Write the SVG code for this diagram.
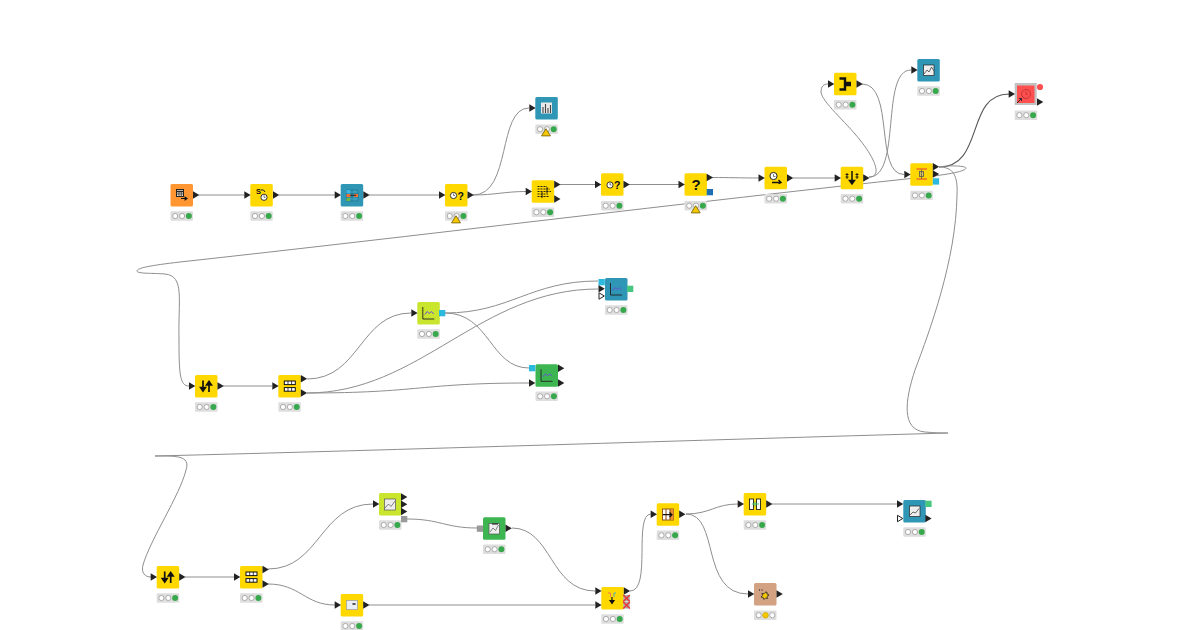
<svg xmlns="http://www.w3.org/2000/svg" width="1200" height="630" viewBox="0 0 1200 630">
<style>
.w{fill:none;stroke:#8e8e8e;stroke-width:1}
.y{fill:#ffd800}.o{fill:#ff9632}.t{fill:#2f97b5}.l{fill:#c9e52e}.g{fill:#3db551}.b{fill:#d2a283}.r{fill:#ff4f4f}
.ic{fill:none;stroke:#222;stroke-width:.9}
.q{font-family:"Liberation Sans",Arial,sans-serif;font-weight:700;fill:#111}
.bar{fill:#dedede}
.c{fill:#fff;stroke:#9a9a9a;stroke-width:.8}
.on{fill:#37a84c}
.am{fill:#f5c800;stroke:#c9a400;stroke-width:.7}
.pb{fill:#2bb9de}.pg{fill:#48c77e}.pd{fill:#1a6fb5}.px{fill:#999}
.open{fill:#fff;stroke:#222;stroke-width:1}
</style>
<defs>
<rect id="box" width="22.500" height="22.500" rx="1.500"/>
<path id="p" d="M0-3.700L6.300 0L0 3.700z" fill="#222"/>
<path id="po" d="M.5-3.200L5.800 0L.5 3.200z" class="open"/>
<g id="st"><rect width="22.500" height="9.400" rx="1" class="bar"/><circle cx="4.700" cy="4.700" r="2.600" class="c"/><circle cx="11.600" cy="4.700" r="2.600" class="c"/><circle cx="18.400" cy="4.700" r="3" class="on"/></g>
<g id="warn"><path d="M0-3.800L4.500 3.400H-4.500z" fill="#f5c800" stroke="#6e5a00" stroke-width=".8"/></g>
<g id="xp"><rect x="-3" y="-3" width="6.500" height="6.500" fill="#aaa"/><path d="M-3-3L3.500 3.500M3.500-3L-3 3.500" stroke="#f03030" stroke-width="1.300"/></g>
<g id="chart"><path d="M5.500 5V17H17" class="ic"/><path d="M7.500 12.500L10 9.500L12 11.500L14 9.500L16.500 12" fill="none" stroke="#6a4fd8" stroke-width="1"/></g>
<g id="split"><rect x="6" y="6" width="11" height="3.600" fill="#fff" stroke="#111"/><rect x="6" y="12.600" width="11" height="3.600" fill="#fff" stroke="#111"/><path d="M9.700 6V9.600M13.300 6V9.600M9.700 12.600V16.200M13.300 12.600V16.200" stroke="#111" stroke-width=".8"/></g>
<g id="sort"><path d="M8 5.500V15M5.600 12.500L8 16L10.400 12.500zM14 17V7.500M11.600 10L14 6.500L16.400 10z" stroke="#111" stroke-width="1.700" fill="#111"/></g>
<g id="clk"><circle r="3.100" fill="#fff" stroke="#222" stroke-width=".9"/><path d="M0-2V0H1.500" fill="none" stroke="#222" stroke-width=".6"/></g>
</defs>

<g id="connectors" class="w">
<path d="M198.500 195H244.500"/>
<path d="M279 195H335"/>
<path d="M369 195H439"/>
<path d="M473 195C512 195 497 108 529 108"/>
<path d="M473 195C495 195 505 191.500 526 191.500"/>
<path d="M560 184.500H595"/>
<path d="M629 184.500H679"/>
<path d="M712 177.500C730 177.500 740 178 759 178"/>
<path d="M793 178H835"/>
<path d="M869 177C882 177 876 160 860 140C845 121 822 102 821 92C821 86 824 84 828 84"/>
<path d="M869 177C902 177 880 70 911 70"/>
<path d="M862 84C895 84 874 174.500 904 174.500"/>
<path d="M939 167C985 167 965 94 1009 94" stroke="#555" stroke-width="1.100"/>
<path d="M939 167C950 165 966 166 966 168C966 171 950 174.500 920 177.500C700 201 400 238 180 262C150 265.500 137 268 137 271C137 274 155 273 165 274C185 276 178 300 179 340C179 375 180 386 189 386"/>
<path d="M939 167C953 167 958 175 957 195C956 260 930 330 915 370C905 400 901 430 925 432C935 433 949 433 948 433C700 440 400 450 155 456C175 456 191 455 186 470C180 495 150 540 143 565C141 573 145 577 151 577"/>
<path d="M223 386H272"/>
<path d="M307 379C360 379 360 313 411 313"/>
<path d="M307 393C420 393 480 289 598 289"/>
<path d="M307 393C420 393 420 383 529 383"/>
<path d="M445 313C510 313 530 281 598 281"/>
<path d="M445 313C490 313 490 368 529 368"/>
<path d="M185 577H234"/>
<path d="M268 569C320 569 320 504 373 504"/>
<path d="M268 584C300 584 305 605 335 605"/>
<path d="M369 605H595"/>
<path d="M407 519C440 519 445 528 477 528"/>
<path d="M512 528C552 528 550 591 595 591"/>
<path d="M630 591C652 591 633 514 651 514"/>
<path d="M686 514C710 514 715 504 738 504"/>
<path d="M686 514C720 514 700 594 748 594"/>
<path d="M772 504H897"/>
</g>

<g id="n1"><use href="#box" class="o" x="170.500" y="184"/><use href="#st" x="170.500" y="211.300"/><use href="#p" x="193" y="195"/><rect x="176.500" y="189.500" width="7" height="7" fill="#f5e8d8" stroke="#222"/><path d="M176.500 191.500H183.500" stroke="#222" stroke-width="1.500"/><path d="M179 191.500V196.500M181.300 191.500V196.500M176.500 194H183.500" stroke="#222" stroke-width=".7"/><path d="M181 198.500H186.500M184.500 196.800L187 198.500L184.500 200.200" stroke="#111" fill="none" stroke-width="1.100"/></g>
<g id="n2"><use href="#box" class="y" x="250.300" y="184"/><use href="#st" x="250.300" y="211.300"/><use href="#p" x="244.300" y="195"/><use href="#p" x="273" y="195"/><text class="q" x="256" y="194" font-size="7.500">S</text><path d="M261 190Q264 189 265 192" fill="none" stroke="#222"/><use href="#clk" x="264" y="197.300"/></g>
<g id="n3"><use href="#box" class="t" x="340.700" y="184"/><use href="#st" x="340.700" y="211.300"/><use href="#p" x="334.700" y="195"/><use href="#p" x="363.300" y="195"/><path d="M346.500 190H358V201H346.500zM352 190V201M346.500 193.500H358M346.500 197H358" stroke="#1d6a80" stroke-width=".6" fill="#3aa0bd"/><rect x="346.500" y="190" width="3.500" height="3.500" fill="#38b6e8"/><rect x="346.500" y="194" width="4" height="3" fill="#f07030"/><rect x="346.500" y="198" width="3.500" height="3" fill="#6db83e"/><rect x="354" y="194" width="4" height="3" fill="#f07030"/><path d="M350 195.300H356" stroke="#222"/></g>
<g id="n4"><use href="#box" class="y" x="445" y="184"/><use href="#st" x="445" y="211.300"/><use href="#p" x="439" y="195"/><use href="#p" x="467.500" y="195"/><use href="#clk" x="453.500" y="195.500"/><text class="q" x="457.500" y="199.500" font-size="10.500">?</text><use href="#warn" x="456" y="219.500"/></g>
<g id="n5"><use href="#box" class="t" x="535.300" y="97"/><use href="#st" x="535.300" y="124.500"/><use href="#p" x="529.300" y="108"/><rect x="541" y="102.500" width="11" height="11" fill="#e8e8e8"/><path d="M543 113V107M545.500 113V104M548 113V108M550.500 113V105" stroke="#444" stroke-width="1.100"/><use href="#warn" x="546" y="132.500"/></g>
<g id="n6"><use href="#box" class="y" x="531.700" y="180.300"/><use href="#st" x="531.700" y="207.500"/><use href="#p" x="525.700" y="191.500"/><use href="#p" x="554.200" y="184.500"/><use href="#p" x="554.200" y="199"/><path d="M537.500 186.500H547M537.500 189H550M537.500 191.500H551M537.500 194H548M537.500 196.500H549" stroke="#111" stroke-width=".9" stroke-dasharray="2 1"/><path d="M547 187V193M542 192V198" stroke="#111" stroke-width=".9"/></g>
<g id="n7"><use href="#box" class="y" x="601" y="173.300"/><use href="#st" x="601" y="201"/><use href="#p" x="595" y="184.500"/><use href="#p" x="623.500" y="184.500"/><use href="#clk" x="610" y="185"/><text class="q" x="614" y="189" font-size="10.500">?</text></g>
<g id="n8"><use href="#box" class="y" x="684.500" y="173.300"/><use href="#st" x="684.500" y="201"/><use href="#p" x="678.500" y="184.500"/><use href="#p" x="706.700" y="177.500"/><rect x="706.700" y="189" width="6.300" height="6.300" class="pd"/><text class="q" x="691.500" y="190" font-size="15">?</text><use href="#warn" x="695.700" y="209.500"/></g>
<g id="n9"><use href="#box" class="y" x="764.500" y="166.700"/><use href="#st" x="764.500" y="194"/><use href="#p" x="758.500" y="178"/><use href="#p" x="787" y="178"/><circle cx="773.500" cy="176" r="3.600" fill="#fff" stroke="#222"/><path d="M773.500 174V176.500H775.500" fill="none" stroke="#222" stroke-width=".6"/><path d="M772 182.500H781M778.500 180L781 182.500L778.500 183.500" fill="none" stroke="#111" stroke-width="1.400"/></g>
<g id="n10"><use href="#box" class="y" x="840.700" y="166.700"/><use href="#st" x="840.700" y="194"/><use href="#p" x="834.700" y="178"/><use href="#p" x="863.200" y="178"/><path d="M852 171V183M849.500 180.500L852 184L854.500 180.500z" stroke="#111" fill="#111" stroke-width="1.500"/><path d="M847 173V179M857 173V179M845.500 174.500H848.500M845.500 177H848.500M855.500 174.500H858.500M855.500 177H858.500" stroke="#111" stroke-width=".9"/></g>
<g id="n11"><use href="#box" class="y" x="834" y="72.700"/><use href="#st" x="834" y="100"/><use href="#p" x="828" y="84"/><use href="#p" x="856.500" y="84"/><path d="M839.500 78.500H845V83H851M839.500 89.500H845V85H851" fill="none" stroke="#111" stroke-width="2.400"/></g>
<g id="n12"><use href="#box" class="t" x="917.300" y="59"/><use href="#st" x="917.300" y="86.300"/><use href="#p" x="911.300" y="70"/><rect x="923.500" y="65" width="10.500" height="10.500" fill="#eee" stroke="#222" stroke-width=".7"/><path d="M924 74L927 70L929 72L931.500 67L934 71" fill="none" stroke="#444" stroke-width=".8"/></g>
<g id="n13"><use href="#box" class="y" x="910.300" y="163.300"/><use href="#st" x="910.300" y="190.700"/><use href="#p" x="904.300" y="174.500"/><use href="#p" x="932.800" y="166.800"/><use href="#p" x="932.800" y="174"/><rect x="932.800" y="178.300" width="6.300" height="6.300" class="pb"/><path d="M916.500 169H927M916.500 179H927" stroke="#f07020" stroke-width="1.500"/><rect x="919.500" y="171.500" width="4" height="5" fill="#d8c060" stroke="#555" stroke-width=".8"/><path d="M921.500 169.500V179" stroke="#555" stroke-width=".7"/></g>
<g id="n14"><rect x="1014.700" y="83" width="22" height="22" fill="#c2c2c2"/><rect x="1017" y="85.500" width="17.500" height="17.500" class="r"/><use href="#st" x="1014.700" y="110.500"/><use href="#p" x="1008.700" y="94"/><use href="#p" x="1037" y="102"/><circle cx="1040" cy="87" r="3.100" fill="#ff4f4f"/><circle cx="1026" cy="94" r="4.500" fill="none" stroke="#b03030" stroke-width=".8"/><path d="M1026 91V94.300H1028" fill="none" stroke="#b03030" stroke-width=".7"/><path d="M1017 103L1021.500 98.500M1019 98.500H1021.500V101" fill="none" stroke="#222" stroke-width=".9"/></g>
<g id="n15"><use href="#box" class="l" x="417.300" y="302"/><use href="#st" x="417.300" y="329.300"/><use href="#p" x="411.300" y="313"/><rect x="439" y="310" width="6.300" height="6.300" class="pb"/><use href="#chart" x="417.300" y="302"/></g>
<g id="n16"><use href="#box" class="t" x="605" y="278"/><use href="#st" x="605" y="305.300"/><rect x="598.500" y="279" width="6.300" height="6.300" class="pb"/><use href="#p" x="598.500" y="288.700"/><use href="#po" x="598.500" y="296"/><rect x="627" y="285.700" width="6.300" height="6.300" class="pg"/><use href="#chart" x="605" y="278"/></g>
<g id="n17"><use href="#box" class="g" x="535.500" y="364.300"/><use href="#st" x="535.500" y="391.600"/><rect x="529" y="365" width="6.300" height="6.300" class="pb"/><use href="#p" x="529" y="383"/><use href="#p" x="558" y="368.300"/><use href="#p" x="558" y="383"/><use href="#chart" x="535.500" y="364.300"/></g>
<g id="n18"><use href="#box" class="y" x="195" y="375"/><use href="#st" x="195" y="402.300"/><use href="#p" x="189" y="386"/><use href="#p" x="217.500" y="386"/><use href="#sort" x="195" y="375"/></g>
<g id="n19"><use href="#box" class="y" x="278.300" y="375"/><use href="#st" x="278.300" y="402.300"/><use href="#p" x="272.300" y="386"/><use href="#p" x="300.800" y="378.700"/><use href="#p" x="300.800" y="393"/><use href="#split" x="278.300" y="375"/></g>
<g id="n20"><use href="#box" class="y" x="156.700" y="566"/><use href="#st" x="156.700" y="593.300"/><use href="#p" x="150.700" y="577"/><use href="#p" x="179.200" y="577"/><use href="#sort" x="156.700" y="566"/></g>
<g id="n21"><use href="#box" class="y" x="240" y="566"/><use href="#st" x="240" y="593.300"/><use href="#p" x="234" y="577"/><use href="#p" x="262.500" y="569.500"/><use href="#p" x="262.500" y="584"/><use href="#split" x="240" y="566"/></g>
<g id="n22"><use href="#box" class="l" x="379" y="493"/><use href="#st" x="379" y="520.300"/><use href="#p" x="373" y="504"/><use href="#p" x="401" y="497"/><use href="#p" x="401" y="504.300"/><use href="#p" x="401" y="511.500"/><rect x="401" y="516" width="6.300" height="6.300" class="px"/><rect x="384.500" y="499" width="11" height="11" fill="#eee" stroke="#555" stroke-width=".7"/><path d="M385 508L388.500 504L391 506.500L395 501" fill="none" stroke="#666" stroke-width=".8"/></g>
<g id="n23"><use href="#box" class="y" x="340.700" y="594"/><use href="#st" x="340.700" y="621.300"/><use href="#p" x="334.700" y="605"/><use href="#p" x="363.200" y="605"/><rect x="346.500" y="600.500" width="11" height="9" fill="#e8eef4" stroke="#99a" stroke-width=".7"/><rect x="352.500" y="603" width="3" height="2" fill="#555"/></g>
<g id="n24"><use href="#box" class="g" x="483" y="517.300"/><use href="#st" x="483" y="544.600"/><rect x="476.800" y="525.500" width="6.300" height="6.300" class="px"/><use href="#p" x="505.500" y="528.300"/><rect x="489" y="523.500" width="10.500" height="10.500" fill="#eee" stroke="#555" stroke-width=".7"/><path d="M490 532L493 528L495.500 530.500L498.500 525" fill="none" stroke="#666" stroke-width=".8"/><path d="M492 524H498" stroke="#111" stroke-width="1"/></g>
<g id="n25"><use href="#box" class="y" x="601.300" y="587"/><use href="#st" x="601.300" y="614.300"/><use href="#p" x="595.300" y="591"/><use href="#p" x="595.300" y="605"/><use href="#p" x="623.800" y="591"/><use href="#xp" x="626.300" y="598"/><use href="#xp" x="626.300" y="605"/><path d="M608 593H610.500V597" fill="none" stroke="#f07060" stroke-width=".9"/><path d="M616 593H614V597" fill="none" stroke="#40a8d8" stroke-width=".9"/><path d="M612 597V602M610 600.500L612 603.500L614 600.500z" stroke="#111" fill="#111" stroke-width="1.200"/></g>
<g id="n26"><use href="#box" class="y" x="656.700" y="503.300"/><use href="#st" x="656.700" y="530.600"/><use href="#p" x="650.700" y="514.300"/><use href="#p" x="679.200" y="514.300"/><rect x="662.500" y="509" width="11" height="11" fill="#fff" stroke="#8a4a10" stroke-width=".9"/><rect x="670" y="509" width="3.500" height="11" fill="#e89030"/><path d="M666 509V520M670 509V520" stroke="#8a4a10" stroke-width="1"/><path d="M663 514.700H672M669.500 512.500L672 514.700L669.500 517" fill="none" stroke="#111" stroke-width="1.200"/></g>
<g id="n27"><use href="#box" class="y" x="743.700" y="493"/><use href="#st" x="743.700" y="520.300"/><use href="#p" x="737.700" y="504"/><use href="#p" x="766.200" y="504"/><rect x="749.500" y="499" width="4" height="10.500" fill="#fff" stroke="#222" stroke-width=".9"/><rect x="756.500" y="499" width="4" height="10.500" fill="#fff" stroke="#222" stroke-width=".9"/><path d="M752 504H759M755 501.500V506.500" stroke="#48c77e"/></g>
<g id="n28"><use href="#box" class="t" x="903.300" y="500"/><use href="#st" x="903.300" y="527.300"/><use href="#p" x="897" y="504"/><use href="#po" x="897" y="518.500"/><rect x="925.300" y="500.700" width="6.300" height="6.300" class="pg"/><use href="#p" x="925.300" y="518.500"/><rect x="909.500" y="506" width="10.500" height="10.500" fill="#eee" stroke="#222" stroke-width=".7"/><path d="M910 515L913 512L915.500 513L919 508.500" fill="none" stroke="#444" stroke-width=".8"/></g>
<g id="n29"><use href="#box" class="b" x="754" y="583"/><rect x="754" y="610.500" width="22.500" height="9.400" rx="1" class="bar"/><circle cx="758.700" cy="615.200" r="2.600" class="c"/><circle cx="765.500" cy="615.200" r="2.800" class="am"/><circle cx="772.300" cy="615.200" r="2.600" class="c"/><use href="#p" x="748" y="594"/><use href="#p" x="776.500" y="594"/><path d="M767 592L766.800 594L769 595L767 596.500L767.500 598.500L765.500 598L764 599.500L763.200 597.500L761 597L762.600 595.300L761.800 593.400L764 593.800L765.300 592.300z" fill="#f5c800" stroke="#222" stroke-width=".8"/><path d="M759.500 589V591M762 589V591" stroke="#444" stroke-width=".8"/></g>
</svg>
